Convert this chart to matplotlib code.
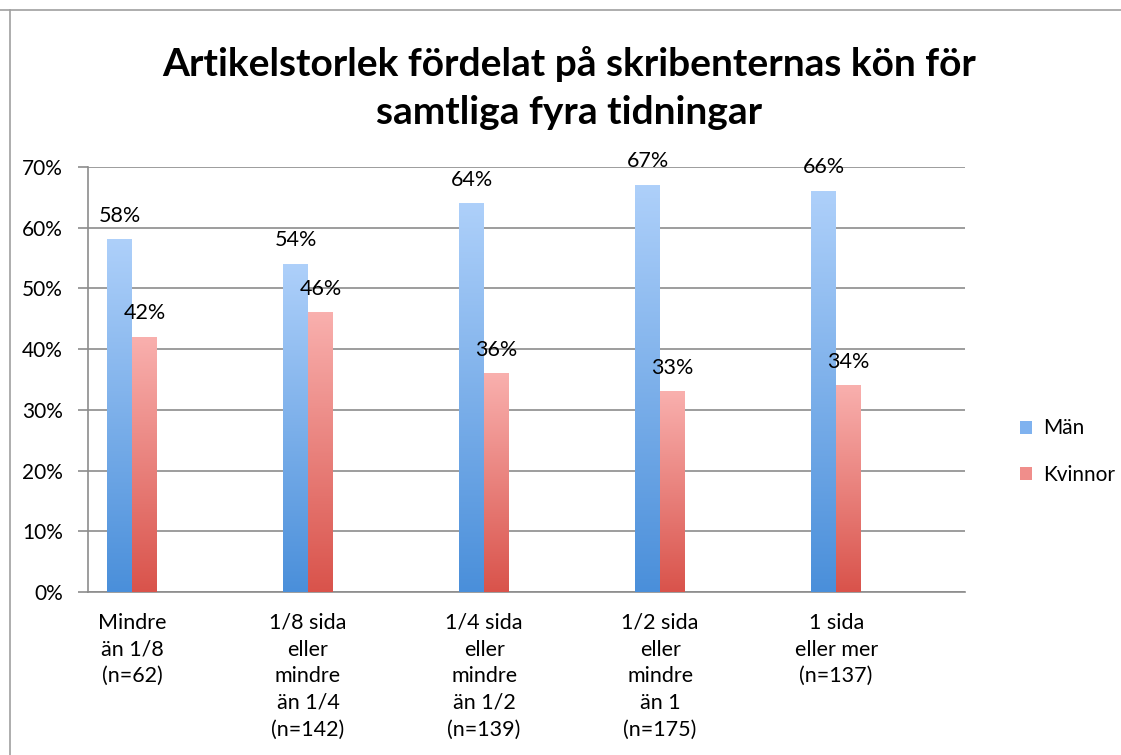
import numpy as np
import matplotlib.pyplot as plt
from matplotlib.lines import Line2D
from matplotlib.patches import Rectangle
from matplotlib.colors import LinearSegmentedColormap

plt.rcParams['font.family'] = ['Lato', 'DejaVu Sans']

# Data
categories = ["Mindre\nän 1/8\n(n=62)",
              "1/8 sida\neller\nmindre\nän 1/4\n(n=142)",
              "1/4 sida\neller\nmindre\nän 1/2\n(n=139)",
              "1/2 sida\neller\nmindre\nän 1\n(n=175)",
              "1 sida\neller mer\n(n=137)"]
man = [58, 54, 64, 67, 66]
kvinnor = [42, 46, 36, 33, 34]
series_names = ["Män", "Kvinnor"]

blue_cmap = LinearSegmentedColormap.from_list("b", ["#4a8fda", "#aed0fa"])
red_cmap = LinearSegmentedColormap.from_list("r", ["#d9534b", "#f9b0ae"])

fig = plt.figure(figsize=(11.21, 7.55), dpi=100)
ax = fig.add_axes([0.0785, 0.2159, 0.7825, 0.5629])

x = np.arange(len(categories))
w = 0.142
grad = np.linspace(0, 1, 256).reshape(-1, 1)

def gradient_bars(xs, vals, cmap):
    for xi, v in zip(xs, vals):
        ax.imshow(grad, cmap=cmap, origin='lower', aspect='auto',
                  extent=(xi, xi + w, 0, v / 100), zorder=3)

gradient_bars(x - w, man, blue_cmap)
gradient_bars(x, kvinnor, red_cmap)

for xi, v in zip(x - w / 2, man):
    ax.annotate(f"{v}%", (xi, v / 100), xytext=(0, 10), textcoords='offset points',
                ha='center', va='bottom', fontsize=15.5)
for xi, v in zip(x + w / 2, kvinnor):
    ax.annotate(f"{v}%", (xi, v / 100), xytext=(0, 10), textcoords='offset points',
                ha='center', va='bottom', fontsize=15.5)

ax.set_xlim(-0.25, 4.733)
ax.set_ylim(0, 0.70)
ax.set_yticks(np.arange(0, 0.71, 0.1))
ax.set_yticklabels([f"{int(round(t * 100))}%" for t in np.arange(0, 0.71, 0.1)])
ax.set_xticks(x)
ax.set_xticklabels(categories, linespacing=1.42)
ax.tick_params(axis='x', length=0, pad=15, labelsize=15.5)
ax.tick_params(axis='y', length=7, color='#8c8c8c', width=1.2, pad=11, labelsize=15)
ax.grid(axis='y', color='#8c8c8c', linewidth=1.2, zorder=0)
ax.set_axisbelow(True)
for s in ['top', 'right']:
    ax.spines[s].set_visible(False)
for s in ['left', 'bottom']:
    ax.spines[s].set_color('#8c8c8c')
    ax.spines[s].set_linewidth(1.2)

fig.text(0.508, 0.884, "Artikelstorlek fördelat på skribenternas kön för\nsamtliga fyra tidningar",
         ha='center', va='center', fontsize=28, fontweight='bold', linespacing=1.45)

handles = [Rectangle((0, 0), 1, 1, facecolor="#7fb2ef", edgecolor='none'),
           Rectangle((0, 0), 1, 1, facecolor="#f08e8b", edgecolor='none')]
fig.legend(handles, series_names, loc='center left', bbox_to_anchor=(0.893, 0.402),
           frameon=False, fontsize=15, handlelength=0.6, handleheight=0.6,
           handletextpad=0.5, labelspacing=1.25)

# outer frame of the chart
fig.add_artist(Line2D([0, 1], [1 - 10 / 755, 1 - 10 / 755], color='#a0a0a0', linewidth=1.2))
fig.add_artist(Line2D([10 / 1121, 10 / 1121], [0, 1 - 10 / 755], color='#a0a0a0', linewidth=1.2))

fig.savefig("out.png", dpi=100)
